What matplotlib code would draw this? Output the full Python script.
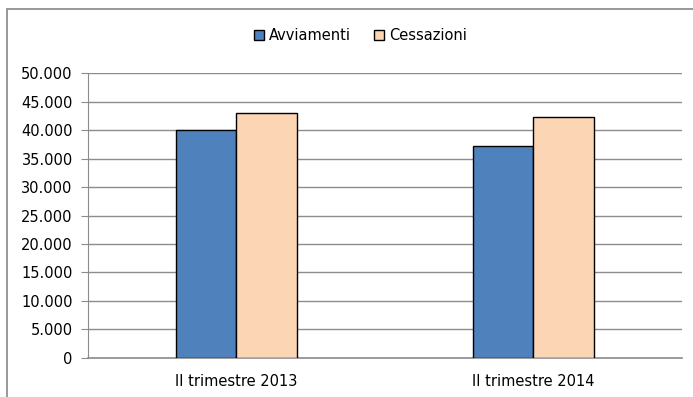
import numpy as np
import matplotlib.pyplot as plt
from matplotlib.patches import Rectangle

plt.rcParams['font.family'] = ['Liberation Sans Narrow', 'DejaVu Sans']

categorie = ["II trimestre 2013", "II trimestre 2014"]
avviamenti = [40000, 37300]
cessazioni = [43000, 42400]
tick_y = np.arange(0, 50001, 5000)
etichette_y = [f"{v:,}".replace(",", ".") for v in tick_y]

fig = plt.figure(figsize=(6.93, 3.97), dpi=100)
ax = fig.add_axes([0.127, 0.099, 0.857, 0.716])

# cornice del grafico (stile Excel)
fig.patches.append(Rectangle((7 / 693, -0.2), 1.5, 1.2 - 9 / 397, transform=fig.transFigure,
                             fill=False, edgecolor="#868686", linewidth=1.2))

x = np.arange(len(categorie))
w = 0.205
ax.bar(x - w / 2, avviamenti, w, color="#4F81BD", edgecolor="black", linewidth=1, label="Avviamenti", zorder=3)
ax.bar(x + w / 2, cessazioni, w, color="#FCD5B5", edgecolor="black", linewidth=1, label="Cessazioni", zorder=3)

ax.set_xlim(-0.5, 1.5)
ax.set_ylim(0, 50000)
ax.set_yticks(tick_y)
ax.set_yticklabels(etichette_y, fontsize=10.5)
ax.set_xticks(x)
ax.set_xticklabels(categorie, fontsize=10.5)
ax.yaxis.grid(True, color="#8C8C8C", linewidth=1, zorder=0)
ax.axhline(0, color="#8C8C8C", linewidth=1.2, clip_on=False, zorder=2)
for s in ["top", "right", "bottom"]:
    ax.spines[s].set_visible(False)
ax.spines["left"].set_color("#8C8C8C")
ax.tick_params(axis="y", length=5, color="#8C8C8C", pad=6)
ax.tick_params(axis="x", length=0, pad=12)

fig.legend(loc="center", bbox_to_anchor=(0.52, 0.91), ncol=2, frameon=False, fontsize=10.5,
           handlelength=0.7, handleheight=0.7, handletextpad=0.3, columnspacing=1.6)

fig.savefig("out.png", dpi=100)
